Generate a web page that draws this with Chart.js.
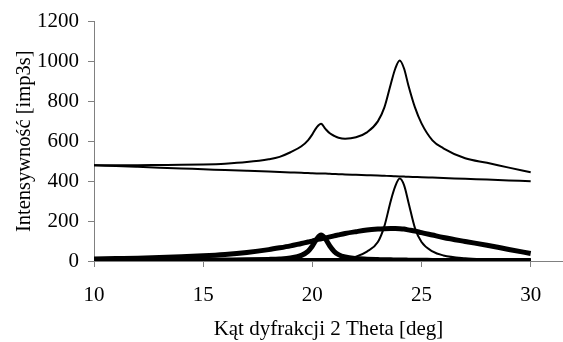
<!DOCTYPE html>
<html>
<head>
<meta charset="utf-8">
<script src="https://cdn.jsdelivr.net/npm/chart.js@4"></script>
<style>
  html, body { margin: 0; padding: 0; background: #fff; }
  #wrap { width: 563px; height: 342px; }
</style>
</head>
<body>
<div id="wrap"><canvas id="xrd"></canvas></div>
<script>
// 2 Theta positions (denser around the peaks)
const angles = [10, 11, 12, 13, 14, 15, 16, 17, 18, 18.5, 19, 19.5, 19.8, 20, 20.2, 20.4, 20.6, 20.8, 21, 21.2, 21.5, 22, 22.5, 23, 23.3, 23.6, 23.8, 24, 24.2, 24.4, 24.7, 25, 25.5, 26, 27, 28, 29, 30];

const total = [480, 480, 480, 481, 482, 484, 488, 496, 510, 522, 545, 575, 605, 635, 670, 688, 662, 640, 627, 618, 613, 620, 645, 700, 770, 890, 965, 1005, 965, 880, 770, 690, 605, 565, 515, 492, 468, 445];
const background = [480, 476, 472, 468, 464, 460, 456, 452, 448, 446, 444, 442, 441, 440, 439, 438, 438, 437, 436, 435, 434, 432, 430, 428, 427, 426, 425, 424, 423, 422, 421, 420, 418, 416, 412, 408, 404, 400];
const peak24 = [1, 1, 2, 2, 2, 3, 3, 4, 4, 5, 5, 6, 6, 7, 7, 7, 7, 8, 8, 10, 14, 22, 47, 95, 175, 305, 375, 413, 380, 295, 165, 95, 48, 28, 14, 9, 6, 5];
const amorph = [10, 12, 14, 17, 21, 26, 33, 43, 57, 66, 76, 88, 95, 100, 106, 111, 116, 121, 126, 131, 138, 147, 155, 160, 162, 163, 163, 162, 160, 156, 150, 142, 130, 118, 98, 79, 58, 38];
const peak204 = [2, 2, 3, 3, 4, 4, 5, 6, 8, 10, 15, 28, 48, 75, 110, 130, 110, 75, 48, 32, 20, 12, 9, 7, 6, 6, 5, 5, 5, 4, 4, 4, 3, 3, 3, 2, 2, 2];
const baseZero = [3, 3, 3, 3, 3, 3, 3, 3, 3, 3, 3, 3, 3, 3, 3, 3, 3, 3, 3, 3, 3, 3, 3, 3, 3, 3, 3, 3, 3, 3, 3, 3, 3, 3, 3, 3, 3, 3];

const xTicks = [10, 15, 20, 25, 30];
const yTicks = [0, 200, 400, 600, 800, 1000, 1200];

const pts = arr => angles.map((a, i) => ({ x: a, y: arr[i] }));
const line = (arr, w) => ({
  data: pts(arr),
  borderColor: '#000',
  borderWidth: w,
  pointRadius: 0,
  fill: false,
  cubicInterpolationMode: 'monotone'
});

const axisGrey = '#808080';
const serif = 'Liberation Serif';

new Chart(document.getElementById('xrd'), {
  type: 'line',
  data: {
    datasets: [
      line(total, 2),
      line(background, 2),
      line(peak24, 2),
      line(baseZero, 5),
      line(amorph, 5),
      line(peak204, 5)
    ]
  },
  options: {
    responsive: true,
    maintainAspectRatio: false,
    animation: false,
    layout: { padding: { top: 21, left: 0, right: 0, bottom: 0 } },
    plugins: { legend: { display: false }, tooltip: { enabled: false } },
    scales: {
      x: {
        type: 'linear',
        min: 10,
        max: 31.48,
        afterBuildTicks: s => { s.ticks = xTicks.map(v => ({ value: v })); },
        afterFit: s => { s.height = 81; },
        grid: { drawOnChartArea: false, color: axisGrey, tickLength: 6 },
        border: { color: axisGrey, width: 1 },
        ticks: { color: '#000', font: { family: serif, size: 21 }, padding: 16, maxRotation: 0, callback: v => String(v) },
        title: { display: true, text: 'Kąt dyfrakcji 2 Theta [deg]', color: '#000', font: { family: serif, size: 21 }, padding: { top: 0, bottom: 0 } }
      },
      y: {
        min: 0,
        max: 1200,
        afterBuildTicks: s => { s.ticks = yTicks.map(v => ({ value: v })); },
        afterFit: s => { s.width = 94; },
        grid: { drawOnChartArea: false, color: axisGrey, tickLength: 6 },
        border: { color: axisGrey, width: 1 },
        ticks: { color: '#000', font: { family: serif, size: 21 }, padding: 9, callback: v => String(v) },
        title: { display: true, text: 'Intensywność [imp3s]', color: '#000', font: { family: serif, size: 20.5 }, padding: { top: 12, bottom: 0 } }
      }
    }
  }
});
</script>
</body>
</html>
